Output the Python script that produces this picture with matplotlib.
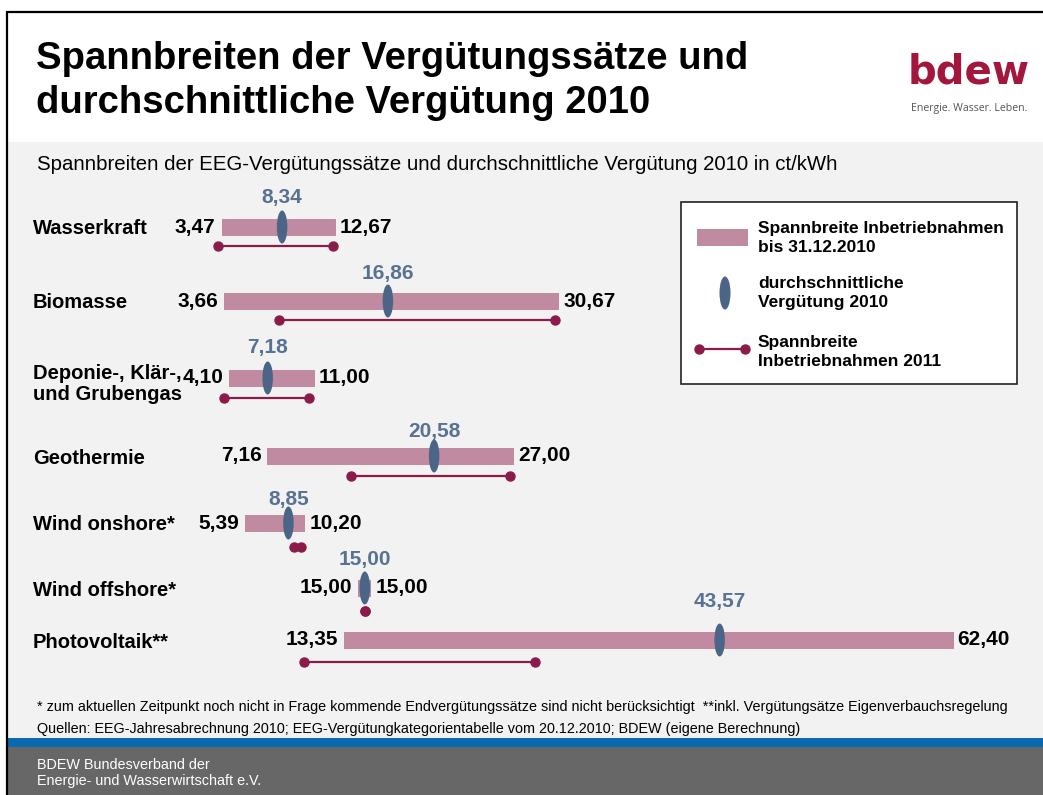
import matplotlib
matplotlib.use("Agg")
import matplotlib.pyplot as plt
from matplotlib.patches import Rectangle, Ellipse
from matplotlib.lines import Line2D

# ---------------- data ----------------
categories = ["Wasserkraft", "Biomasse", "Deponie-, Klär-,\nund Grubengas", "Geothermie",
              "Wind onshore*", "Wind offshore*", "Photovoltaik**"]
range2010_lo = [3.47, 3.66, 4.10, 7.16, 5.39, 15.00, 13.35]
range2010_hi = [12.67, 30.67, 11.00, 27.00, 10.20, 15.00, 62.40]
avg2010 = [8.34, 16.86, 7.18, 20.58, 8.85, 15.00, 43.57]
range2011_lo = [3.2, 8.1, 3.7, 13.9, 9.3, 15.0, 10.1]
range2011_hi = [12.4, 30.3, 10.5, 26.7, 9.9, 15.0, 28.7]

title_lines = ["Spannbreiten der Vergütungssätze und", "durchschnittliche Vergütung 2010"]
subtitle = "Spannbreiten der EEG-Vergütungssätze und durchschnittliche Vergütung 2010 in ct/kWh"
legend_labels = ["Spannbreite Inbetriebnahmen\nbis 31.12.2010",
                 "durchschnittliche\nVergütung 2010",
                 "Spannbreite\nInbetriebnahmen 2011"]
footnote1 = ("* zum aktuellen Zeitpunkt noch nicht in Frage kommende Endvergütungssätze sind nicht "
             "berücksichtigt  **inkl. Vergütungsätze Eigenverbauchsregelung")
footnote2 = "Quellen: EEG-Jahresabrechnung 2010; EEG-Vergütungkategorientabelle vom 20.12.2010; BDEW (eigene Berechnung)"
footer_lines = "BDEW Bundesverband der\nEnergie- und Wasserwirtschaft e.V."

# ---------------- layout ----------------
W, H = 1043, 795
row_y = [227, 301, 378, 456, 523, 588, 640]          # pixel rows
avg_lab_off = [-29, -27, -30, -25, -23, -29, -38]
line_off = [19, 19, 20, 20, 24, 23, 22]

BAR = "#c08aa1"
AVG = "#4b6586"
AVG_TXT = "#587294"
L11 = "#8a1b4b"
FONT = "Liberation Sans"

fig = plt.figure(figsize=(W / 100, H / 100), dpi=100)
fig.patch.set_facecolor("white")

# background / decoration axes in pixel coordinates
bg = fig.add_axes([0, 0, 1, 1])
bg.set_xlim(0, W)
bg.set_ylim(H, 0)
bg.axis("off")
bg.add_patch(Rectangle((7, 142), W - 7, 596, facecolor="#f2f2f2", edgecolor="none"))
bg.add_patch(Rectangle((7, 738), W - 7, 9, facecolor="#0a69b1", edgecolor="none"))
bg.add_patch(Rectangle((7, 747), W - 7, H - 747, facecolor="#676767", edgecolor="none"))
bg.plot([7, 7], [12, H], color="black", lw=1.6, solid_capstyle="butt")
bg.plot([6.2, W], [12, 12], color="black", lw=1.6, solid_capstyle="butt")

bg.text(36, 59, title_lines[0], fontsize=27.5, fontweight="bold", family=FONT, va="center", ha="left")
bg.text(36, 103, title_lines[1], fontsize=27.5, fontweight="bold", family=FONT, va="center", ha="left")
bg.text(37, 164, subtitle, fontsize=14.7, family=FONT, va="center", ha="left")

# logo
bg.text(969, 72, "bdew", fontsize=29, fontweight="bold", family="DejaVu Sans", color="#a3173c",
        va="center", ha="center")
bg.text(969, 108, "Energie. Wasser. Leben.", fontsize=7.6, family="Open Sans", color="#555555",
        va="center", ha="center")

# footnotes and footer
bg.text(37, 707, footnote1, fontsize=10.4, family=FONT, va="center", ha="left")
bg.text(37, 729, footnote2, fontsize=10.4, family=FONT, va="center", ha="left")
bg.text(37, 773, footer_lines, fontsize=10.4, family=FONT, va="center", ha="left", color="white",
        linespacing=1.1)

# legend box
bg.add_patch(Rectangle((681, 202), 336, 182, facecolor="white", edgecolor="#222222", lw=1.2))
bg.add_patch(Rectangle((697, 229), 51, 17, facecolor=BAR, edgecolor="none"))
bg.add_patch(Ellipse((725, 293), 11, 33, facecolor=AVG, edgecolor="none"))
bg.add_line(Line2D([699, 745], [349, 349], color=L11, lw=1.6, marker="o", markersize=6.5,
                   markerfacecolor=L11, markeredgecolor=L11))
for yy, lab in zip([238, 293, 352], legend_labels):
    bg.text(758, yy, lab, fontsize=12.5, fontweight="bold", family=FONT, va="center", ha="left",
            linespacing=1.4)

# data axes: x in ct/kWh, y in pixels
x0_px, scale = 178.5, 12.42
ax = fig.add_axes([0, 0, 1, 1])
ax.set_xlim(-x0_px / scale, (W - x0_px) / scale)
ax.set_ylim(H, 0)
ax.axis("off")
ax.patch.set_alpha(0)

def fmt(v):
    return f"{v:.2f}".replace(".", ",")

min_w = 1.05
for i, cat in enumerate(categories):
    y = row_y[i]
    lo, hi, av = range2010_lo[i], range2010_hi[i], avg2010[i]
    w = hi - lo
    left = lo
    if w < min_w:
        left = (lo + hi) / 2 - min_w / 2
        w = min_w
    ax.barh(y, w, left=left, height=17, color=BAR, edgecolor="none")
    # 2011 range
    ax.plot([range2011_lo[i], range2011_hi[i]], [y + line_off[i]] * 2, color=L11, lw=1.6,
            marker="o", markersize=6.5, markerfacecolor=L11, markeredgecolor=L11, zorder=3)
    # average ellipse
    ax.add_patch(Ellipse((av, y), 10.5 / scale, 33, facecolor=AVG, edgecolor="none", zorder=4))
    ax.annotate(fmt(av), (av, y + avg_lab_off[i]), ha="center", va="center", fontsize=15,
                fontweight="bold", family=FONT, color=AVG_TXT)
    ax.annotate(fmt(lo), (left, y), xytext=(-6, 0), textcoords="offset pixels", ha="right",
                va="center", fontsize=15, fontweight="bold", family=FONT)
    ax.annotate(fmt(hi), (left + w, y), xytext=(4, 0), textcoords="offset pixels", ha="left",
                va="center", fontsize=15, fontweight="bold", family=FONT)
    bg.text(33, y + 2 + (4 if "\n" in cat else 0), cat, fontsize=14.5, fontweight="bold", family=FONT,
            va="center", ha="left", linespacing=1.15)

fig.savefig("out.png", dpi=100)
